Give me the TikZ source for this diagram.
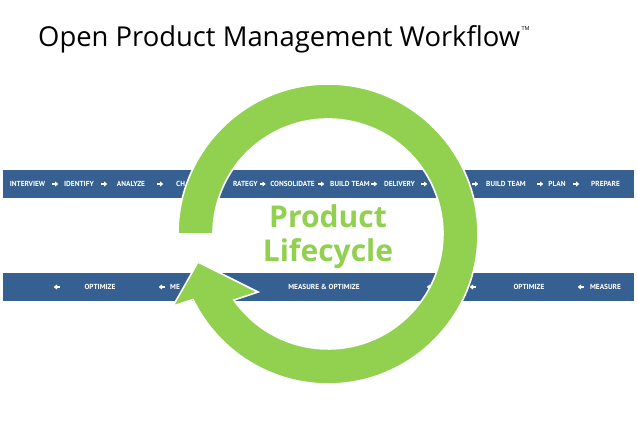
\documentclass[tikz,border=0pt]{standalone}
\usepackage{fontspec}
\setmainfont{PT Sans}
\newfontfamily\titlefont{Open Sans}
\usetikzlibrary{arrows.meta}
\definecolor{bandblue}{RGB}{54,96,146}
\definecolor{ringgreen}{RGB}{146,208,80}
\begin{document}
\begin{tikzpicture}[x=1pt,y=1pt,
  band/.style={fill=bandblue, draw=none, inner sep=0pt, anchor=south west, minimum width=631pt, minimum height=28pt},
  lbl/.style={text=white, font=\fontsize{7.3}{8}\selectfont\bfseries, inner sep=0pt},
  warr/.style={draw=white, line width=1.6pt, -{Triangle[length=3.2pt,width=5pt]}},
]
\useasboundingbox (0,0) rectangle (638,442);
\fill[white] (0,0) rectangle (638,442);
% title
\node[anchor=base west, font=\titlefont\fontsize{27.4}{30}\selectfont, inner sep=0pt] (title) at (38,395) {Open Product Management Workflow};
\node[anchor=north west, font=\titlefont\fontsize{5.5}{6}\selectfont, inner sep=0pt] (tm) at ([xshift=1pt,yshift=-1pt]title.north east) {TM};
% bands
\node[band] (topband) at (3,244) {};
\node[band] (botband) at (3,141) {};
% top band labels (y = 258)
\node[lbl] (t1) at (27.5,258) {INTERVIEW};
\node[lbl] (t2) at (79,258) {IDENTIFY};
\node[lbl] (t3) at (131,258) {ANALYZE};
\node[lbl, anchor=west] (t4) at (176,258) {CH};
\node[lbl, anchor=east] (t5) at (258,258) {RATEGY};
\node[lbl] (t6) at (292.5,258) {CONSOLIDATE};
\node[lbl] (t7) at (350,258) {BUILD TEAM};
\node[lbl] (t8) at (399.5,258) {DELIVERY};
\node[lbl] (t9) at (506,258) {BUILD TEAM};
\node[lbl] (t10) at (557,258) {PLAN};
\node[lbl] (t11) at (605.5,258) {PREPARE};
\foreach \x in {55,104,160,262.5,321,374,424,475,540,576}
  \draw[warr] (\x-3,258) -- (\x+3.2,258);
% bottom band labels (y = 155)
\node[lbl] (b1) at (100,155) {OPTIMIZE};
\node[lbl, anchor=west] (b2) at (170,155) {ME};
\node[lbl] (b3) at (324,155) {MEASURE \& OPTIMIZE};
\node[lbl] (b4) at (529,155) {OPTIMIZE};
\node[lbl] (b5) at (605.5,155) {MEASURE};
\foreach \x in {57,162,430,473,581}
  \draw[warr] (\x+3,155) -- (\x-3.2,155);
% ring arrow
\fill[ringgreen, draw=white, line width=1.6pt, line join=miter]
  (178,208) arc[start angle=180, end angle=-154.1, radius=150]
  -- (173,136) -- (198,180) -- (258,150) -- (233.9,141.9)
  arc[start angle=-144.9, end angle=180, radius=115] -- cycle;
\node[text=ringgreen, font=\titlefont\fontsize{30}{34}\selectfont\bfseries, align=center, inner sep=0pt] (plc) at (328,205) {Product\\Lifecycle};
\end{tikzpicture}
\end{document}
